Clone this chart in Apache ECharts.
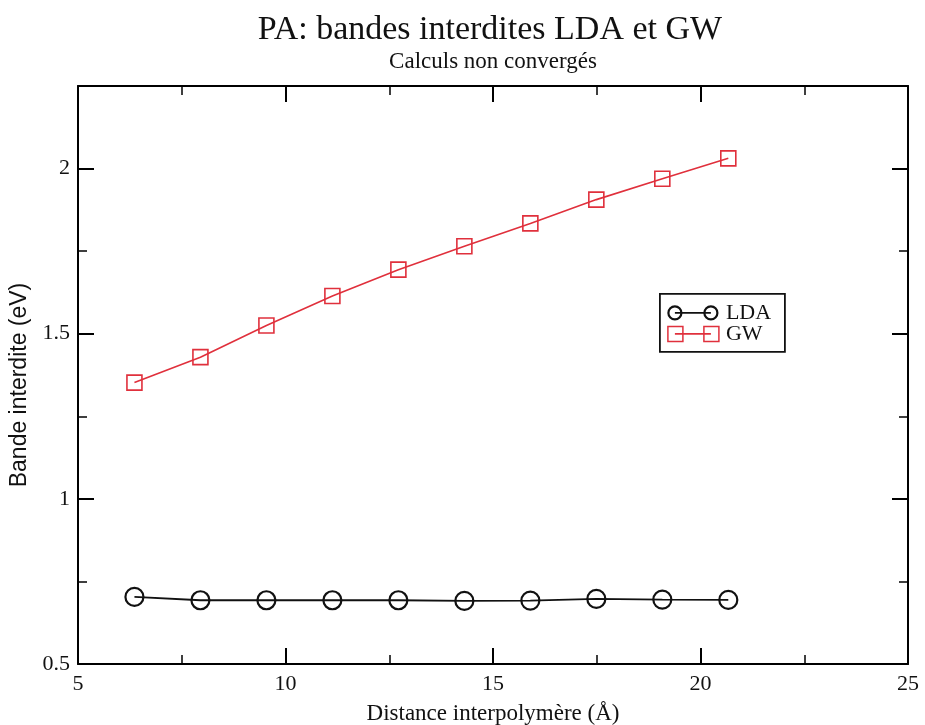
<!DOCTYPE html>
<html>
<head>
<meta charset="utf-8">
<script src="https://cdn.jsdelivr.net/npm/echarts@6/dist/echarts.min.js"></script>
<style>
  html, body { margin: 0; padding: 0; background: #fff; }
  #chart { width: 925px; height: 725px; }
</style>
</head>
<body>
<div id="chart"></div>
<script>
// Interpolymer distance (Å)
const distances = [6.36, 7.95, 9.54, 11.13, 12.72, 14.31, 15.90, 17.49, 19.08, 20.67];
// Band gap (eV)
const ldaGap = [0.703, 0.693, 0.693, 0.693, 0.693, 0.691, 0.692, 0.697, 0.695, 0.694];
const gwGap  = [1.352, 1.429, 1.525, 1.614, 1.694, 1.765, 1.834, 1.906, 1.969, 2.031];

const xTicks = [5, 10, 15, 20, 25];
const yTicks = [0.5, 1, 1.5, 2];
const seriesNames = ['LDA', 'GW'];

const SERIF = 'Liberation Serif';
const SANS = 'Liberation Sans';
const RED = '#e0303c';

const pairs = (xs, ys) => xs.map((x, i) => [x, ys[i]]);

const axisCommon = {
  axisLine: { show: true, onZero: false, lineStyle: { color: '#000', width: 2 } },
  axisTick: { show: true, inside: true, length: 16, lineStyle: { color: '#000', width: 2 } },
  minorTick: { show: true, splitNumber: 2, length: 9, lineStyle: { color: '#000', width: 1.5 } },
  splitLine: { show: false },
  minorSplitLine: { show: false }
};

const chart = echarts.init(document.getElementById('chart'), null, { renderer: 'canvas' });

chart.setOption({
  animation: false,
  backgroundColor: '#fff',
  title: [
    {
      text: 'PA: bandes interdites LDA et GW',
      left: 485, top: 8, textAlign: 'center',
      textStyle: { fontFamily: SERIF, fontSize: 34, fontWeight: 'normal', color: '#111' }
    },
    {
      text: 'Calculs non convergés',
      left: 488, top: 45, textAlign: 'center',
      textStyle: { fontFamily: SERIF, fontSize: 23, fontWeight: 'normal', color: '#111' }
    }
  ],
  grid: { left: 78, right: 17, top: 86, bottom: 61, containLabel: false, outerBoundsMode: 'none' },
  xAxis: [
    Object.assign({}, axisCommon, {
      type: 'value', min: xTicks[0], max: xTicks[xTicks.length - 1], interval: 5,
      position: 'bottom',
      name: 'Distance interpolymère (Å)', nameLocation: 'middle', nameGap: 38,
      nameTextStyle: { fontFamily: SERIF, fontSize: 23, color: '#111' },
      axisLabel: { fontFamily: SERIF, fontSize: 22, color: '#111', margin: 9 }
    }),
    Object.assign({}, axisCommon, {
      type: 'value', min: xTicks[0], max: xTicks[xTicks.length - 1], interval: 5,
      position: 'top', axisLabel: { show: false }
    })
  ],
  yAxis: [
    Object.assign({}, axisCommon, {
      type: 'value', min: yTicks[0], max: 2.25, interval: 0.5,
      position: 'left',
      name: 'Bande interdite (eV)', nameLocation: 'middle', nameGap: 39,
      nameTextStyle: { fontFamily: SANS, fontSize: 23, color: '#111', padding: [0, 20, 0, 0] },
      axisLabel: {
        fontFamily: SERIF, fontSize: 22, color: '#111', margin: 8,
        showMaxLabel: false,
        formatter: v => (yTicks.indexOf(v) >= 0 ? String(v) : '')
      }
    }),
    Object.assign({}, axisCommon, {
      type: 'value', min: yTicks[0], max: 2.25, interval: 0.5,
      position: 'right', axisLabel: { show: false }
    })
  ],
  series: [
    {
      name: seriesNames[0], type: 'line', xAxisIndex: 0, yAxisIndex: 0,
      data: pairs(distances, ldaGap),
      symbol: 'circle', symbolSize: 18, showAllSymbol: true,
      lineStyle: { color: '#111', width: 1.8 },
      itemStyle: { color: 'rgba(0,0,0,0)', borderColor: '#111', borderWidth: 2.2 },
      emphasis: { disabled: true }, z: 3
    },
    {
      name: seriesNames[1], type: 'line', xAxisIndex: 0, yAxisIndex: 0,
      data: pairs(distances, gwGap),
      symbol: 'rect', symbolSize: 15, showAllSymbol: true,
      lineStyle: { color: RED, width: 1.6 },
      itemStyle: { color: 'rgba(0,0,0,0)', borderColor: RED, borderWidth: 1.6 },
      emphasis: { disabled: true }, z: 3
    }
  ],
  graphic: [
    {
      type: 'group', left: 659, top: 293,
      children: [
        { type: 'rect', shape: { x: 0, y: 0, width: 125, height: 58 },
          style: { fill: '#fff', stroke: '#111', lineWidth: 1.8 } },
        { type: 'line', shape: { x1: 15, y1: 19, x2: 51, y2: 19 }, style: { stroke: '#111', lineWidth: 1.8 } },
        { type: 'circle', shape: { cx: 15, cy: 19, r: 6.5 }, style: { fill: 'none', stroke: '#111', lineWidth: 2.2 } },
        { type: 'circle', shape: { cx: 51, cy: 19, r: 6.5 }, style: { fill: 'none', stroke: '#111', lineWidth: 2.2 } },
        { type: 'text', x: 66, y: 19,
          style: { text: seriesNames[0], fontFamily: SERIF, fontSize: 22, fill: '#111', verticalAlign: 'middle' } },
        { type: 'line', shape: { x1: 15, y1: 40, x2: 51, y2: 40 }, style: { stroke: RED, lineWidth: 1.6 } },
        { type: 'rect', shape: { x: 8, y: 32.5, width: 15, height: 15 }, style: { fill: 'none', stroke: RED, lineWidth: 1.5 } },
        { type: 'rect', shape: { x: 44, y: 32.5, width: 15, height: 15 }, style: { fill: 'none', stroke: RED, lineWidth: 1.5 } },
        { type: 'text', x: 66, y: 40,
          style: { text: seriesNames[1], fontFamily: SERIF, fontSize: 22, fill: '#111', verticalAlign: 'middle' } }
      ]
    }
  ]
});
</script>
</body>
</html>
